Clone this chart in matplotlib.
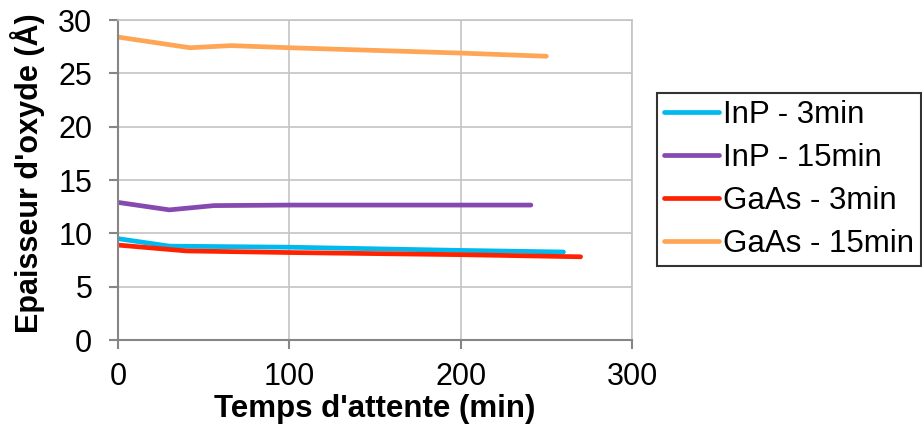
import matplotlib
matplotlib.use("Agg")
import matplotlib.pyplot as plt

plt.rcParams['font.family'] = ['Liberation Sans', 'DejaVu Sans']

inp3_x = [0, 30, 100, 200, 260]
inp3_y = [9.5, 8.8, 8.7, 8.4, 8.25]
inp15_x = [0, 30, 56, 100, 200, 241]
inp15_y = [12.9, 12.2, 12.6, 12.65, 12.65, 12.65]
gaas3_x = [0, 40, 100, 200, 270]
gaas3_y = [8.9, 8.35, 8.2, 8.0, 7.8]
gaas15_x = [0, 42, 66, 100, 200, 250]
gaas15_y = [28.4, 27.4, 27.6, 27.4, 26.9, 26.6]

labels = ["InP - 3min", "InP - 15min", "GaAs - 3min", "GaAs - 15min"]
colors = ["#00B9EE", "#8549B0", "#FF2200", "#FFA556"]

x_ticks = [0, 100, 200, 300]
y_ticks = [0, 5, 10, 15, 20, 25, 30]

W, H = 922, 434
L, R, T, B = 118, 632, 20, 340
fig = plt.figure(figsize=(W / 100, H / 100), dpi=100)
ax = fig.add_axes([L / W, 1 - B / H, (R - L) / W, (B - T) / H])

series = [(inp3_x, inp3_y), (inp15_x, inp15_y), (gaas3_x, gaas3_y), (gaas15_x, gaas15_y)]
for (xs, ys), lab, c in zip(series, labels, colors):
    ax.plot(xs, ys, color=c, lw=3.4, label=lab, solid_capstyle='round', solid_joinstyle='round')

ax.set_xlim(0, 300)
ax.set_ylim(0, 30)
ax.set_xticks(x_ticks)
ax.set_yticks(y_ticks)
ax.grid(True, color='#C4C4C4', lw=1.2)
ax.set_axisbelow(True)
for s in ['top', 'right']:
    ax.spines[s].set_color('#C4C4C4')
    ax.spines[s].set_linewidth(1.2)
for s in ['left', 'bottom']:
    ax.spines[s].set_color('#868686')
    ax.spines[s].set_linewidth(1.5)
ax.tick_params(axis='both', labelsize=22, colors='#868686', labelcolor='black',
               length=6.5, width=1.5, direction='out')
ax.tick_params(axis='y', pad=12)
ax.tick_params(axis='x', pad=9)
ax.set_xlabel("Temps d'attente (min)", fontsize=22.5, fontweight='bold', labelpad=2)
ax.set_ylabel("Epaisseur d'oxyde (Å)", fontsize=22, fontweight='bold')
ax.yaxis.set_label_coords((45 - L) / (R - L), 0.52)

leg = ax.legend(loc='upper left', bbox_to_anchor=(657 / W, 1 - 93 / H),
                bbox_transform=fig.transFigure, fontsize=22.5, frameon=True,
                fancybox=False, edgecolor='black', handlelength=1.75, handletextpad=0.14,
                borderpad=0.22, labelspacing=0.42, borderaxespad=0)
leg.get_frame().set_linewidth(1.5)

fig.savefig("out.png", dpi=100)
